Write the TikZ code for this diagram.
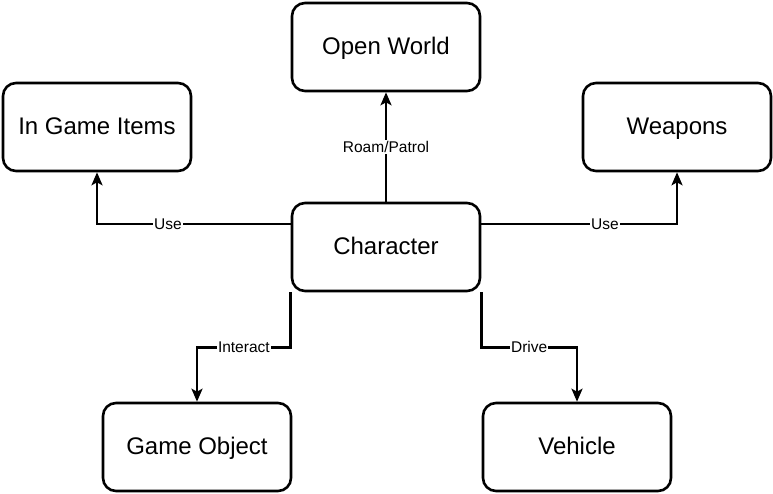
\documentclass[tikz,border=0pt]{standalone}
\usepackage{fontspec}
\setmainfont{Liberation Sans}
\usetikzlibrary{arrows.meta}

\begin{document}
\begin{tikzpicture}[
  x=1pt, y=-1pt,
  >={Stealth[length=13pt,width=11pt,inset=3pt]},
  box/.style={draw, line width=2.6pt, rounded corners=13pt, minimum width=188pt,
    minimum height=88pt, text height=18pt, text depth=3pt,
    font=\fontsize{24}{28}\selectfont},
  arrow/.style={->, line width=2.6pt},
  lab/.style={fill=white, inner sep=1pt, font=\fontsize{15.5}{18}\selectfont}
]
  \useasboundingbox (0,0) rectangle (773,493);

  %--- nodes
  \node[box] (world)   at (386,47)  {Open World};
  \node[box] (items)   at (97,127)  {In Game Items};
  \node[box] (weapons) at (677,127) {Weapons};
  \node[box] (char)    at (386,247) {Character};
  \node[box] (obj)     at (197,447) {Game Object};
  \node[box] (vehicle) at (577,447) {Vehicle};

  %--- edges
  \draw[arrow] (char) -- node[lab]{Roam/Patrol} (world);
  \draw[arrow] ([yshift=23pt]char.west) -| node[lab, pos=0.317]{Use} (items.south);
  \draw[arrow] ([yshift=23pt]char.east) -| node[lab, pos=0.316]{Use} (weapons.south);
  \draw[arrow] (char.south west) -- ++(0,55) -| node[lab, pos=0.25]{Interact} (obj.north);
  \draw[arrow] (char.south east) -- ++(0,55) -| node[lab, pos=0.25]{Drive} (vehicle.north);
\end{tikzpicture}
\end{document}
